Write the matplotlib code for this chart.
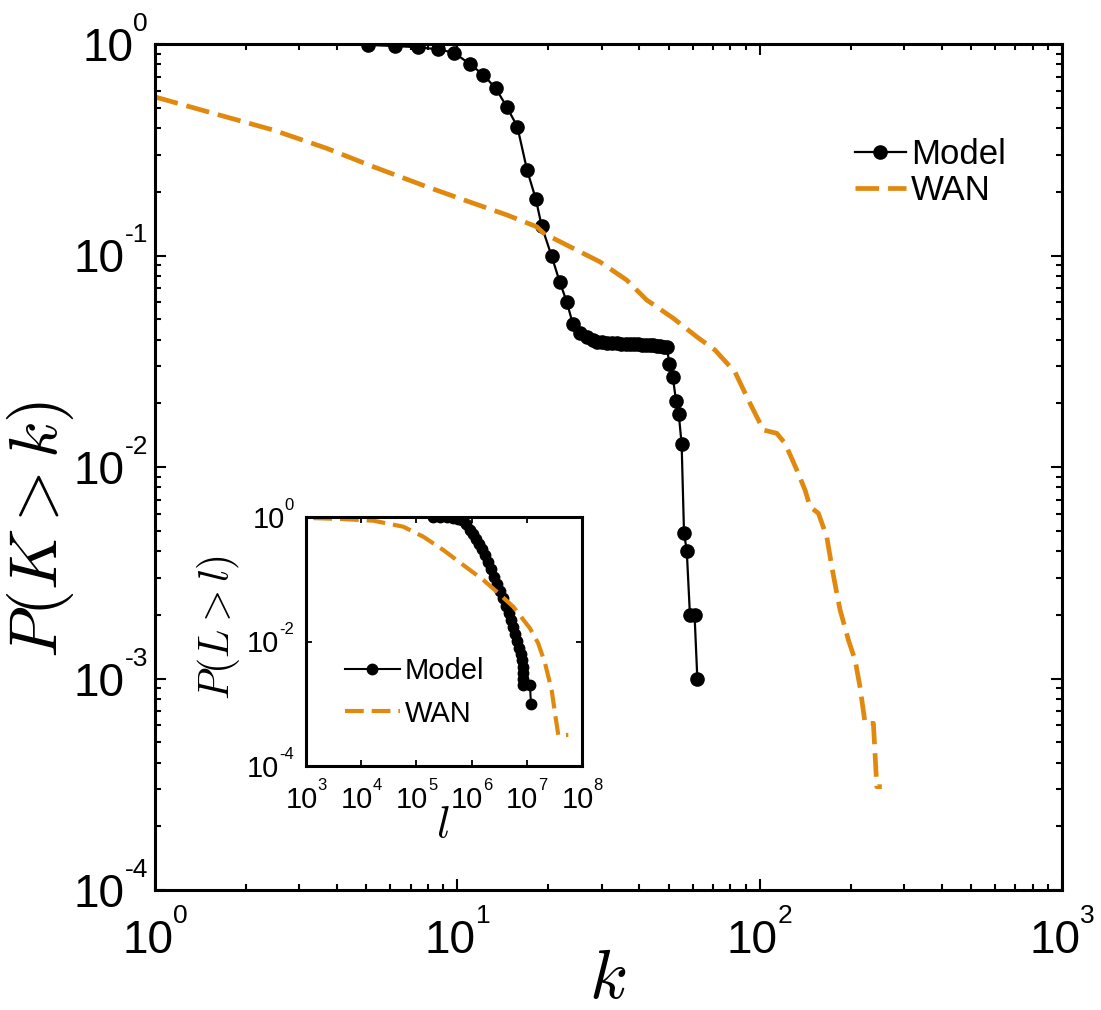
import math
import matplotlib
matplotlib.use("Agg")
import matplotlib.pyplot as plt
from matplotlib import font_manager
from matplotlib.ticker import LogLocator, NullFormatter, NullLocator
from matplotlib.transforms import IdentityTransform


def pick_font(candidates):
    for name in candidates:
        try:
            font_manager.findfont(name, fallback_to_default=False)
            return name
        except ValueError:
            pass
    return "DejaVu Sans"


SANS = pick_font(["Liberation Sans", "Arial"])
plt.rcParams["font.family"] = [SANS, "DejaVu Sans"]

# ---------------- degree distribution (main panel) ----------------
model_k = [5.05, 6.22, 7.43, 8.61, 9.75, 11.0, 12.2, 13.4, 14.6, 15.8,
           17.0, 18.2, 19.0, 20.5, 21.8, 23.0, 24.1, 25.5, 26.8, 28.0,
           28.9, 30.1, 31.3, 32.5, 33.7, 34.9, 36.1, 37.3, 38.5, 39.7,
           40.9, 42.1, 43.3, 44.5, 45.7, 46.9, 48.1, 49.3, 50.3, 51.6,
           52.9, 54.0, 55.2, 56.2, 57.4, 58.8, 60.9, 62.2]
model_p = [0.99, 0.978, 0.965, 0.944, 0.910, 0.804, 0.714, 0.617, 0.502, 0.406,
           0.254, 0.184, 0.138, 0.0995, 0.0752, 0.0605, 0.0475, 0.0429, 0.0413, 0.0400,
           0.0391, 0.0388, 0.0386, 0.0385, 0.0384, 0.0383, 0.0382, 0.0381, 0.0380, 0.0380,
           0.0379, 0.0378, 0.0377, 0.0376, 0.0375, 0.0373, 0.0371, 0.0368, 0.0307, 0.0267,
           0.0205, 0.0178, 0.0128, 0.0049, 0.0040, 0.0020, 0.0020, 0.0010]

wan_k = [1.0, 1.56, 2.46, 3.70, 5.27, 7.92, 11.3, 14.6, 18.3, 19.3,
         24.2, 29.6, 36.3, 42.3, 51.8, 61.9, 71.2, 82.9, 91.8, 102.9,
         113.9, 121.3, 132.7, 141.3, 146.8, 156.4, 166.7, 173.2, 179.9, 184.5,
         196.6, 206.9, 214.8, 223.2, 237.8, 244.0, 253.5]
wan_p = [0.562, 0.470, 0.392, 0.321, 0.263, 0.2115, 0.1766, 0.1554, 0.1368, 0.1273,
         0.108, 0.0934, 0.0766, 0.0616, 0.0505, 0.0413, 0.0357, 0.0281, 0.0207, 0.01496,
         0.01443, 0.01294, 0.00968, 0.00778, 0.00649, 0.00604, 0.00468, 0.00338, 0.00253, 0.00211,
         0.00152, 0.00122, 0.00091, 0.000614, 0.000614, 0.000308, 0.000308]

# ---------------- link length distribution (inset) ----------------
model_l = [2.00e5, 2.68e5, 3.58e5, 4.60e5, 5.67e5, 6.70e5, 7.92e5, 9.35e5, 1.06e6, 1.20e6,
           1.36e6, 1.54e6, 1.75e6, 1.98e6, 2.25e6, 2.55e6, 2.88e6, 3.27e6, 3.71e6, 4.20e6,
           4.76e6, 5.17e6, 5.62e6, 6.11e6, 6.64e6, 7.22e6, 7.69e6, 8.02e6, 8.36e6, 8.53e6,
           8.64e6, 8.71e6, 1.14e7, 1.19e7]
model_lp = [0.999, 0.997, 0.990, 0.975, 0.945, 0.900, 0.760, 0.618, 0.533, 0.443,
            0.368, 0.306, 0.245, 0.189, 0.146, 0.109, 0.0839, 0.0648, 0.0500, 0.0372,
            0.0287, 0.0222, 0.0171, 0.0132, 0.0102, 0.00786, 0.0063, 0.00505, 0.0039, 0.00312,
            0.0025, 0.0020, 0.0020, 0.0010]

wan_l = [1.36e3, 4.13e3, 1.66e4, 5.79e4, 1.33e5, 3.07e5, 7.08e5, 1.63e6, 2.85e6, 5.69e6,
         1.14e7, 1.61e7, 2.14e7, 2.82e7, 3.24e7, 3.72e7, 5.65e7]
wan_lp = [0.96, 0.93, 0.873, 0.698, 0.483, 0.295, 0.169, 0.0973, 0.0631, 0.0362,
          0.0163, 0.00935, 0.00447, 0.00166, 0.000703, 0.000315, 0.000315]

series_labels = ["Model", "WAN"]
main_xticks = [1, 10, 100, 1000]
main_yticks = [1e-4, 1e-3, 1e-2, 1e-1, 1]
inset_xticks = [1e3, 1e4, 1e5, 1e6, 1e7, 1e8]
inset_yticks = [1e-4, 1e-2, 1]

ORANGE = "#E1890F"
W, H = 1101, 1010

fig = plt.figure(figsize=(W / 100, H / 100), dpi=100)
ID = IdentityTransform()

# main axes
ax = fig.add_axes([155 / W, 1 - 890 / H, 907 / W, 846 / H])
ax.plot(model_k, model_p, "-", color="black", lw=1.6, marker="o", ms=9.5,
        label=series_labels[0])
ax.plot(wan_k, wan_p, "--", color=ORANGE, lw=3.4, dashes=(5.0, 1.9),
        label=series_labels[1])
ax.set_xscale("log")
ax.set_yscale("log")
ax.set_xlim(1, 1000)
ax.set_ylim(1e-4, 1)
ax.set_xticks(main_xticks)
ax.set_yticks(main_yticks)
ax.xaxis.set_minor_locator(LogLocator(base=10, subs=range(2, 10)))
ax.yaxis.set_minor_locator(LogLocator(base=10, subs=range(2, 10)))
ax.xaxis.set_minor_formatter(NullFormatter())
ax.yaxis.set_minor_formatter(NullFormatter())
ax.tick_params(which="both", direction="in", top=True, right=True, width=1.5,
               labelbottom=False, labelleft=False)
ax.tick_params(which="major", length=8)
ax.tick_params(which="minor", length=4)
for s in ax.spines.values():
    s.set_linewidth(2.2)

ax.legend(loc="upper left", bbox_to_anchor=(0.772, 0.889), frameon=False,
          fontsize=25, handlelength=1.45, handletextpad=0.15,
          labelspacing=0.08, borderpad=0, borderaxespad=0)

# inset axes
ins = fig.add_axes([306 / W, 1 - 766 / H, 276 / W, 249 / H])
ins.plot(model_l, model_lp, "-", color="black", lw=1.5, marker="o", ms=7.5,
         label=series_labels[0])
ins.plot(wan_l, wan_lp, "--", color=ORANGE, lw=3.0, dashes=(4.5, 1.9),
         label=series_labels[1])
ins.set_xscale("log")
ins.set_yscale("log")
ins.set_xlim(1e3, 1e8)
ins.set_ylim(1e-4, 1)
ins.set_xticks(inset_xticks)
ins.set_yticks(inset_yticks)
ins.xaxis.set_minor_locator(NullLocator())
ins.yaxis.set_minor_locator(NullLocator())
ins.tick_params(which="both", direction="in", top=True, right=True, width=1.3,
                length=4, labelbottom=False, labelleft=False)
for s in ins.spines.values():
    s.set_linewidth(2.2)
ins.legend(loc="upper left", bbox_to_anchor=(0.14, 0.438), frameon=False,
           fontsize=21, handlelength=1.9, handletextpad=0.15,
           labelspacing=0.5, borderpad=0, borderaxespad=0)

# decade tick labels drawn as "10" with a raised exponent
renderer = fig.canvas.get_renderer()


def power_label(anchor_x, baseline_y, exponent, base_size, exp_size, raise_px, align):
    t1 = fig.text(0, baseline_y, "10", fontsize=base_size, transform=ID,
                  ha="left", va="baseline")
    t2 = fig.text(0, baseline_y + raise_px, exponent, fontsize=exp_size,
                  transform=ID, ha="left", va="baseline")
    w1 = t1.get_window_extent(renderer).width
    w2 = t2.get_window_extent(renderer).width
    left = anchor_x - (w1 + w2) / 2 if align == "center" else anchor_x - (w1 + w2)
    t1.set_x(left)
    t2.set_x(left + w1)


def exp_text(v):
    return "%d" % int(round(math.log10(v)))


for a, xt, yt, bsz, esz, rz, xdrop, ygap, ydrop in [
        (ax, main_xticks, main_yticks, 33, 19, 30, 63, 7, 17),
        (ins, inset_xticks, inset_yticks, 21, 12, 18, 42, 12, 11)]:
    x0_px, y0_px = a.transAxes.transform((0, 0))
    for v in xt:
        px = a.transData.transform((v, a.get_ylim()[0]))[0]
        power_label(px, y0_px - xdrop, exp_text(v), bsz, esz, rz, "center")
    for v in yt:
        py = a.transData.transform((a.get_xlim()[0], v))[1]
        power_label(x0_px - ygap, py - ydrop, exp_text(v), bsz, esz, rz, "right")

# axis titles (pixel centres measured from the bottom-left corner)
fig.text(608, H - 980, r"$k$", fontsize=50, math_fontfamily="cm", transform=ID,
         ha="center", va="center")
fig.text(40, H - 530, r"$P(K>k)$", fontsize=48, math_fontfamily="cm", transform=ID,
         ha="center", va="center", rotation=90)
fig.text(443, H - 825, r"$l$", fontsize=32, math_fontfamily="cm", transform=ID,
         ha="center", va="center")
fig.text(218, H - 628, r"$P(L>l)$", fontsize=30, math_fontfamily="cm", transform=ID,
         ha="center", va="center", rotation=90)

fig.savefig("out.png", dpi=100)
